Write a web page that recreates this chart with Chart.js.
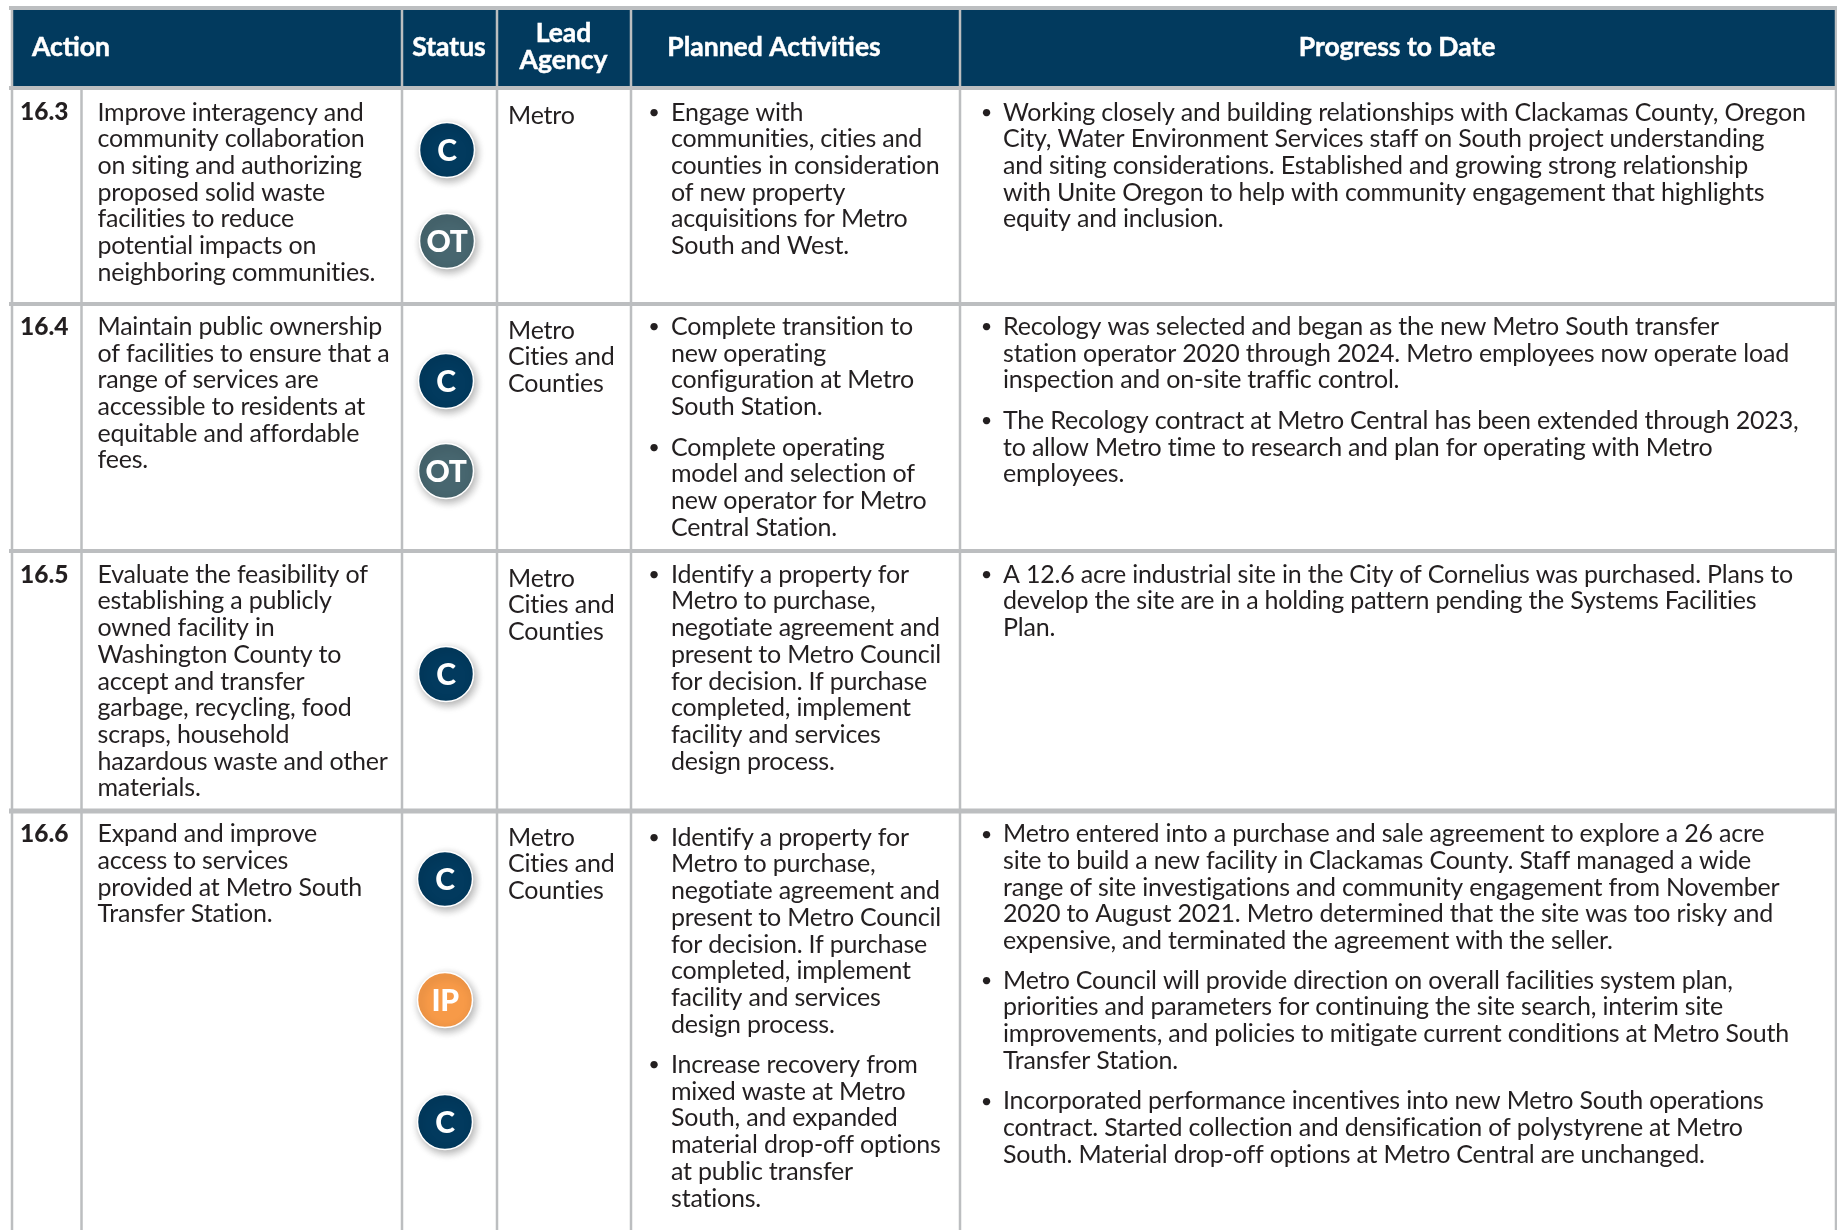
<!DOCTYPE html>
<html><head><meta charset="utf-8">
<style>html,body{margin:0;padding:0;background:#fff}canvas{display:block}</style>
<script src="https://cdn.jsdelivr.net/npm/chart.js@4"></script>
</head><body><canvas id="c" width="1837" height="1230"></canvas>
<script>
// ---- content ----
const headers = ["Action","Status",["Lead","Agency"],"Planned Activities","Progress to Date"];
const actionIds = ["16.3","16.4","16.5","16.6"];
const actionText = [
 ["Improve interagency and","community collaboration","on siting and authorizing","proposed solid waste","facilities to reduce","potential impacts on","neighboring communities."],
 ["Maintain public ownership","of facilities to ensure that a","range of services are","accessible to residents at","equitable and affordable","fees."],
 ["Evaluate the feasibility of","establishing a publicly","owned facility in","Washington County to","accept and transfer","garbage, recycling, food","scraps, household","hazardous waste and other","materials."],
 ["Expand and improve","access to services","provided at Metro South","Transfer Station."]
];
const statusCodes = [["C","OT"],["C","OT"],["C"],["C","IP","C"]];
const leadAgency = [["Metro"],["Metro","Cities and","Counties"],["Metro","Cities and","Counties"],["Metro","Cities and","Counties"]];
const plannedActivities = [
 [["Engage with","communities, cities and","counties in consideration","of new property","acquisitions for Metro","South and West."]],
 [["Complete transition to","new operating","configuration at Metro","South Station."],["Complete operating","model and selection of","new operator for Metro","Central Station."]],
 [["Identify a property for","Metro to purchase,","negotiate agreement and","present to Metro Council","for decision. If purchase","completed, implement","facility and services","design process."]],
 [["Identify a property for","Metro to purchase,","negotiate agreement and","present to Metro Council","for decision. If purchase","completed, implement","facility and services","design process."],["Increase recovery from","mixed waste at Metro","South, and expanded","material drop-off options","at public transfer","stations."]]
];
const progressToDate = [
 [["Working closely and building relationships with Clackamas County, Oregon","City, Water Environment Services staff on South project understanding","and siting considerations. Established and growing strong relationship","with Unite Oregon to help with community engagement that highlights","equity and inclusion."]],
 [["Recology was selected and began as the new Metro South transfer","station operator 2020 through 2024. Metro employees now operate load","inspection and on-site traffic control."],["The Recology contract at Metro Central has been extended through 2023,","to allow Metro time to research and plan for operating with Metro","employees."]],
 [["A 12.6 acre industrial site in the City of Cornelius was purchased. Plans to","develop the site are in a holding pattern pending the Systems Facilities","Plan."]],
 [["Metro entered into a purchase and sale agreement to explore a 26 acre","site to build a new facility in Clackamas County. Staff managed a wide","range of site investigations and community engagement from November","2020 to August 2021. Metro determined that the site was too risky and","expensive, and terminated the agreement with the seller."],["Metro Council will provide direction on overall facilities system plan,","priorities and parameters for continuing the site search, interim site","improvements, and policies to mitigate current conditions at Metro South","Transfer Station."],["Incorporated performance incentives into new Metro South operations","contract. Started collection and densification of polystyrene at Metro","South. Material drop-off options at Metro Central are unchanged."]]
];

// ---- layout (page units = scale values) ----
const W=1837,H=1230;
const colLines=[12,402,497,631,960,1836], idLine=81.5;
const rowLines=[8,88,304,551,811];
const rowLineW=[4,4,4,4,5];
const pitch=26.7;
const rowTextY=[112.5,326.9,574.7,834.2];
const leadY=[116.2,330.7,578.7,837.7];
const plannedY=[[112.5],[326.9,447.6],[574.7],[837.7,1065]];
const progressY=[[112.5],[326.9,420.8],[574.7],[834.2,980.7,1101.2]];
const badgeX=[447,446,446,445];
const badgeY=[[150,241],[381,471],[674],[879,1000,1122]];
const colX={id:20,action:97.5,lead:508,plBullet:654,pl:671,prBullet:986.5,pr:1003};
const headerX=[32,449,563.5,774,1397], headerAlign=["left","center","center","center","center"];
const NAVY="#023a5e", GRID="#bcbec0", INK="#231f20";
const statusColors={C:"#023a5e",OT:"#47666f",IP:"#f79a48"};
const FAM='Lato, sans-serif';
const bodyFont=`400 25px ${FAM}`, boldFont=`700 26.5px ${FAM}`, idFont=`900 24.5px ${FAM}`, bulletFont=`400 20px ${FAM}`;
const BODY_LS="-0.2px";

// ---- datasets ----
const seg=(a,b,w,color)=>({type:"line",data:[a,b],borderColor:color||GRID,borderWidth:w,pointRadius:0,fill:false,order:5,tension:0,clip:false});
const datasets=[];
datasets.push({type:"line",data:[{x:colLines[0],y:rowLines[0]},{x:W,y:rowLines[0]}],borderWidth:0,pointRadius:0,fill:{value:rowLines[1]},backgroundColor:NAVY,order:6});
rowLines.forEach((y,i)=>datasets.push(seg({x:colLines[0]-3,y},{x:W,y},rowLineW[i])));
colLines.forEach(x=>datasets.push(seg({x,y:rowLines[0]},{x,y:H},2.5)));
datasets.push(seg({x:idLine,y:rowLines[1]},{x:idLine,y:H},2.5));
["C","OT","IP"].forEach(code=>{
  const pts=[];
  statusCodes.forEach((r,i)=>r.forEach((s,j)=>{if(s===code)pts.push({x:badgeX[i],y:badgeY[i][j]});}));
  datasets.push({type:"scatter",label:code,data:pts,pointRadius:27.5,pointHoverRadius:27.5,backgroundColor:statusColors[code],borderColor:"#fff",borderWidth:1.5,order:1,isBadge:true,clip:false});
});

const tablePlugin={id:"tableText",
  beforeDatasetDraw(chart,args){
    if(chart.data.datasets[args.index].isBadge){const c=chart.ctx;c.save();c.shadowColor="rgba(0,0,0,.32)";c.shadowBlur=8;c.shadowOffsetX=2;c.shadowOffsetY=3;}
  },
  afterDatasetDraw(chart,args){ if(chart.data.datasets[args.index].isBadge) chart.ctx.restore(); },
  afterDatasetsDraw(chart){
    const c=chart.ctx,X=v=>chart.scales.x.getPixelForValue(v),Y=v=>chart.scales.y.getPixelForValue(v);
    c.save();c.textBaseline="middle";
    // header
    c.fillStyle="#fff";c.strokeStyle="#fff";c.lineWidth=0.5;c.font=boldFont;c.letterSpacing="0px";
    const hText=(t,x,y)=>{c.fillText(t,x,y);c.strokeText(t,x,y);};
    headers.forEach((h,i)=>{
      c.textAlign=headerAlign[i];
      if(Array.isArray(h)){h.forEach((t,k)=>hText(t,X(headerX[i]),Y(33.5+k*27)));}
      else hText(h,X(headerX[i]),Y(47.5));
    });
    // body
    c.fillStyle=INK;c.textAlign="left";
    const lines=(arr,x,y)=>arr.forEach((t,k)=>c.fillText(t,X(x),Y(y+k*pitch)));
    const bullet=(x,y)=>{c.font=bulletFont;c.textAlign="center";c.fillText("•",X(x),Y(y));c.font=bodyFont;c.textAlign="left";};
    actionIds.forEach((id,r)=>{
      c.font=idFont;c.letterSpacing="0px";
      c.fillText(id,X(colX.id),Y(rowTextY[r]));
      c.font=bodyFont;c.letterSpacing=BODY_LS;
      lines(actionText[r],colX.action,rowTextY[r]);
      lines(leadAgency[r],colX.lead,leadY[r]);
      plannedActivities[r].forEach((b,k)=>{bullet(colX.plBullet,plannedY[r][k]);lines(b,colX.pl,plannedY[r][k]);});
      progressToDate[r].forEach((b,k)=>{bullet(colX.prBullet,progressY[r][k]);lines(b,colX.pr,progressY[r][k]);});
    });
    // badge labels
    c.fillStyle="#fff";c.textAlign="center";c.font=`900 30px ${FAM}`;c.letterSpacing="-0.5px";
    statusCodes.forEach((r,i)=>r.forEach((s,j)=>c.fillText(s,X(badgeX[i]),Y(badgeY[i][j]+1))));
    c.restore();
  }
};

new Chart(document.getElementById("c"),{
  type:"scatter",
  data:{datasets},
  options:{responsive:false,animation:false,events:[],
    layout:{padding:0,autoPadding:false},
    plugins:{legend:{display:false},tooltip:{enabled:false},title:{display:false}},
    scales:{
      x:{type:"linear",min:0,max:W,display:false},
      y:{type:"linear",min:0,max:H,reverse:true,display:false}
    }
  },
  plugins:[tablePlugin]
});
</script></body></html>
